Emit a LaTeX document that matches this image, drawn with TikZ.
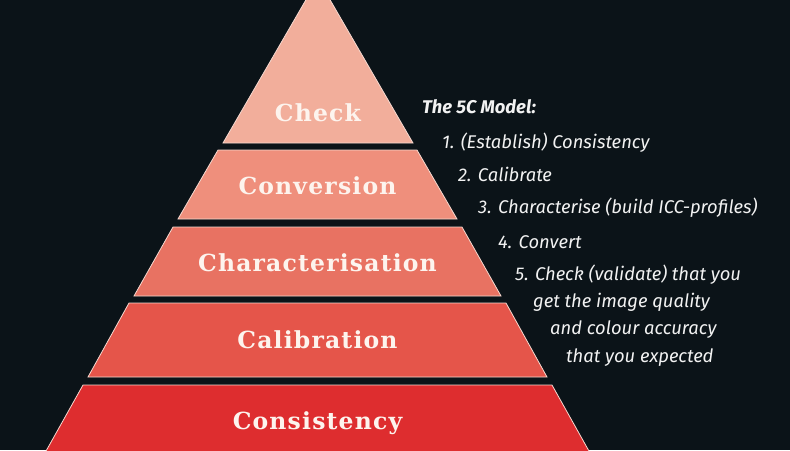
\documentclass[tikz,border=0pt]{standalone}
\usepackage{fontspec}
\setmainfont{DejaVu Serif}
\newfontfamily\labfont[LetterSpace=5]{DejaVu Serif}
\newfontfamily\firait{Fira Sans}
\definecolor{bgdark}{HTML}{0B1318}
\definecolor{cCheck}{HTML}{F2AE9B}
\definecolor{cConv}{HTML}{EF8F7C}
\definecolor{cChar}{HTML}{E87262}
\definecolor{cCal}{HTML}{E5554A}
\definecolor{cCons}{HTML}{DE2D2F}
\definecolor{edgec}{HTML}{F6D9D0}
\definecolor{labc}{HTML}{FDF4EE}
\definecolor{notec}{HTML}{F2F2F2}
\tikzset{
  layer/.style={draw=edgec, line width=0.8pt, line join=miter},
  lab/.style={text=labc, font=\labfont\bfseries\fontsize{23.5}{25}\selectfont, inner sep=0pt},
  note/.style={text=notec, font=\firait\itshape\fontsize{18.4}{20}\selectfont, anchor=base west, inner sep=0pt},
  title/.style={note, font=\firait\bfseries\itshape\fontsize{18.4}{20}\selectfont}
}
\begin{document}
\begin{tikzpicture}[x=1pt,y=-1pt]
\useasboundingbox (0,0) rectangle (790,450);
\fill[bgdark] (0,0) rectangle (790,450);
\begin{scope}
\clip (0,0) rectangle (790,450);
\filldraw[layer, fill=cCheck] (318,-21) -- (413,143) -- (223,143) -- cycle;
\filldraw[layer, fill=cConv] (218,150) -- (417,150) -- (457,219) -- (178,219) -- cycle;
\filldraw[layer, fill=cChar] (173,227) -- (462,227) -- (501,296) -- (134,296) -- cycle;
\filldraw[layer, fill=cCal] (129,303) -- (506,303) -- (547,377) -- (88,377) -- cycle;
\filldraw[layer, fill=cCons] (83,385) -- (552,385) -- (594,460) -- (41,460) -- cycle;
\end{scope}
\node[lab] (lcheck) at (318,113) {Check};
\node[lab] (lconv) at (317.5,186) {Conversion};
\node[lab] (lchar) at (317.5,263) {Characterisation};
\node[lab] (lcal) at (317.5,340) {Calibration};
\node[lab] (lcons) at (317.5,423) {Consistency};
\node[title] (t0) at (422,113) {The 5C Model:};
\node[note] (t1) at (442,148) {1. (Establish) Consistency};
\node[note] (t2) at (458,181) {2. Calibrate};
\node[note] (t3) at (478,213) {3. Characterise (build ICC-profiles)};
\node[note] (t4) at (498,248) {4. Convert};
\node[note] (t5) at (515,280) {5. Check (validate) that you};
\node[note] (t6) at (533,307) {get the image quality};
\node[note] (t7) at (550,334) {and colour accuracy};
\node[note] (t8) at (566,362) {that you expected};
\end{tikzpicture}
\end{document}
